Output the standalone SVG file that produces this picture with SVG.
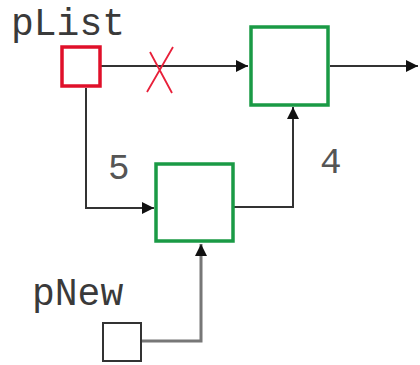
<svg xmlns="http://www.w3.org/2000/svg" width="420" height="365" viewBox="0 0 420 365">
  <style>
    .lbl { font-family: "Liberation Mono", "Courier New", monospace; font-size: 38px; fill: #3a3a3a; }
    .num { font-family: "Liberation Mono", "Courier New", monospace; font-size: 36px; fill: #555; }
    .line { fill: none; stroke: #333; stroke-width: 2; }
    .node { fill: #fff; stroke: #1a9a45; stroke-width: 3.5; }
  </style>
  <defs>
    <marker id="arrow" viewBox="0 0 10 10" refX="10" refY="5" markerWidth="12" markerHeight="12" markerUnits="userSpaceOnUse" orient="auto">
      <path d="M0,0 L10,5 L0,10 z" fill="#111"/>
    </marker>
  </defs>
  <rect width="420" height="365" fill="#fff"/>

  <g id="connectors">
    <path class="line" d="M101,66 H248" marker-end="url(#arrow)"/>
    <path class="line" d="M330,66 H418" marker-end="url(#arrow)"/>
    <path class="line" d="M86,88 V208 H154" marker-end="url(#arrow)"/>
    <path class="line" d="M234,207 H293 V107" marker-end="url(#arrow)"/>
    <path d="M141,341 H201 V244" fill="none" stroke="#777" stroke-width="3" marker-end="url(#arrow)"/>
    <!-- broken link -->
    <path d="M147,92 L173,47 M150,52 L172,93" stroke="#e8203a" stroke-width="1.8" fill="none"/>
  </g>

  <g id="pList">
    <text class="lbl" x="11" y="35">pList</text>
    <rect x="62" y="47" width="38" height="39" fill="#fff" stroke="#e0102a" stroke-width="3.5"/>
  </g>

  <g id="node-a">
    <rect class="node" x="251" y="27" width="77" height="78"/>
  </g>

  <g id="node-b">
    <rect class="node" x="156" y="164" width="77" height="77"/>
  </g>

  <g id="pNew">
    <text class="lbl" x="32" y="305">pNew</text>
    <rect x="103" y="323" width="38" height="38" fill="#fff" stroke="#333" stroke-width="2"/>
  </g>

  <text class="num" x="108" y="179">5</text>
  <text class="num" x="320" y="173">4</text>
</svg>
